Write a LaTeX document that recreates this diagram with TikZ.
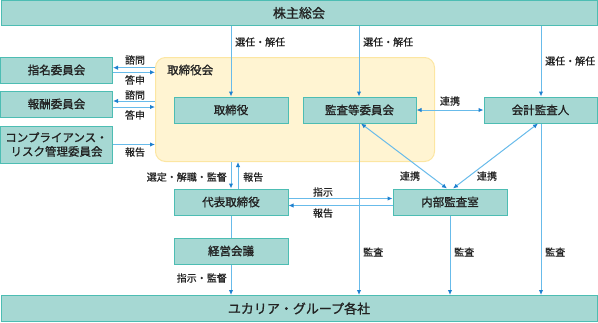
\documentclass[tikz,border=0pt]{standalone}
\usepackage{fontspec}
\setmainfont{Noto Sans CJK JP}
\newfontfamily\jpbox{Noto Sans CJK JP}[FakeBold=1.2]
\newfontfamily\jplbl{Noto Sans CJK JP}[FakeBold=0.8]
\usetikzlibrary{arrows.meta}
\definecolor{boxfill}{HTML}{A6D8D3}
\definecolor{boxline}{HTML}{4DBDB3}
\definecolor{yelfill}{HTML}{FFF4D2}
\definecolor{yelline}{HTML}{FCE6A2}
\definecolor{linblue}{HTML}{68BBEA}
\definecolor{tipblue}{HTML}{1E80CF}
\definecolor{txt}{HTML}{222222}
\tikzset{
  box/.style={draw=boxline, fill=boxfill, line width=1pt, inner sep=0pt, text=txt, font=\jpbox\fontsize{11.5}{14}\selectfont, align=center},
  lbl/.style={text=txt, font=\jplbl\fontsize{10}{12}\selectfont, inner sep=0pt},
  arr/.style={draw=linblue, line width=1pt, -{Latex[length=5pt,width=4.5pt,color=tipblue]}},
  darr/.style={draw=linblue, line width=1pt, {Latex[length=5pt,width=4.5pt,color=tipblue]}-{Latex[length=5pt,width=4.5pt,color=tipblue]}},
  ln/.style={draw=linblue, line width=1pt}
}
\begin{document}
\begin{tikzpicture}[x=1pt,y=-1pt]
\useasboundingbox (0,0) rectangle (598,322);
% board region
\node[draw=yelline, fill=yelfill, line width=1pt, rounded corners=10pt, minimum width=279pt, minimum height=104pt, inner sep=0pt] (bd) at (295,109.5) {};
\node[lbl, anchor=west, font=\jplbl\fontsize{11.5}{14}\selectfont] (bdl) at (167,70) {取締役会};
% boxes
\node[box, minimum width=596pt, minimum height=25pt, font=\jpbox\fontsize{13}{15}\selectfont] (top) at (299,13) {株主総会};
\node[box, minimum width=596pt, minimum height=26pt, font=\jpbox\fontsize{13}{15}\selectfont] (bot) at (299,308.5) {ユカリア・グループ各社};
\node[box, minimum width=112pt, minimum height=26pt] (shimei) at (56.5,70) {指名委員会};
\node[box, minimum width=112pt, minimum height=26pt] (hoshu) at (56.5,104) {報酬委員会};
\node[box, minimum width=112pt, minimum height=37pt] (comp) at (56.5,144.5) {コンプライアンス・\\リスク管理委員会};
\node[box, minimum width=114pt, minimum height=26pt] (tori) at (231,110) {取締役};
\node[box, minimum width=113pt, minimum height=26pt] (kansa) at (359.5,110) {監査等委員会};
\node[box, minimum width=113pt, minimum height=26pt] (kaikei) at (540.5,110) {会計監査人};
\node[box, minimum width=114pt, minimum height=26pt] (daihyo) at (231,202) {代表取締役};
\node[box, minimum width=114pt, minimum height=26pt] (keiei) at (231,251) {経営会議};
\node[box, minimum width=114pt, minimum height=26pt] (naibu) at (450,202) {内部監査室};
% shareholders -> board etc.
\draw[arr] (tori.north |- top.south) -- (tori.north);
\node[lbl, anchor=west] (l1) at (235,42) {選任・解任};
\coordinate (kx) at (359,110);
\draw[arr] (kx |- top.south) -- (kx |- kansa.north);
\node[lbl, anchor=west] (l2) at (363,42) {選任・解任};
\coordinate (ax) at (541,110);
\draw[arr] (ax |- top.south) -- (ax |- kaikei.north);
\node[lbl, anchor=west] (l3) at (545,61) {選任・解任};
% committees
\coordinate (s1) at ([yshift=2.3pt]shimei.east);
\coordinate (s2) at ([yshift=-2.3pt]shimei.east);
\draw[arr] (s1 -| bd.west) -- (s1);
\draw[arr] (s2) -- (s2 -| bd.west);
\node[lbl] (l4) at (135,60) {諮問};
\node[lbl] (l5) at (135,80) {答申};
\coordinate (h1) at ([yshift=3pt]hoshu.east);
\coordinate (h2) at ([yshift=-3pt]hoshu.east);
\draw[arr] (h1 -| bd.west) -- (h1);
\draw[arr] (h2) -- (h2 -| bd.west);
\node[lbl] (l6) at (135,95) {諮問};
\node[lbl] (l7) at (135,115) {答申};
\draw[arr] (comp.east) -- (comp.east -| bd.west);
\node[lbl] (l8) at (135,152) {報告};
% board <-> representative
\draw[arr] (daihyo.north |- bd.south) -- (daihyo.north);
\coordinate (r1) at ([xshift=7pt]daihyo.north);
\draw[arr] (r1) -- (r1 |- bd.south);
\node[lbl, anchor=east] (l9) at (227,177) {選定・解職・監督};
\node[lbl, anchor=west] (l10) at (243,177) {報告};
\draw[ln] (daihyo.south) -- (keiei.north);
\draw[arr] (keiei.south) -- (keiei.south |- bot.north);
\node[lbl, anchor=east] (l11) at (227,278) {指示・監督};
% representative <-> internal audit
\coordinate (d1) at ([yshift=3.5pt]daihyo.east);
\coordinate (d2) at ([yshift=-3.5pt]daihyo.east);
\draw[arr] (d1) -- (d1 -| naibu.west);
\draw[arr] (d2 -| naibu.west) -- (d2);
\node[lbl] (l12) at (323,192) {指示};
\node[lbl] (l13) at (323,213) {報告};
% cooperation
\draw[darr] (kansa.east) -- (kaikei.west);
\node[lbl] (l14) at (450,101) {連携};
\coordinate (n1) at ([xshift=-3pt]naibu.north);
\coordinate (n2) at ([xshift=3pt]naibu.north);
\coordinate (k1) at ([xshift=1.5pt]kansa.south);
\coordinate (a1) at ([xshift=-2.5pt]kaikei.south);
\draw[darr] (n1) -- (k1);
\draw[darr] (n2) -- (a1);
\node[lbl] (l15) at (410,176) {連携};
\node[lbl] (l16) at (487,176) {連携};
% audits
\draw[arr] (kx |- kansa.south) -- (kx |- bot.north);
\node[lbl, anchor=west] (l17) at (363,252) {監査};
\draw[arr] (naibu.south) -- (naibu.south |- bot.north);
\node[lbl, anchor=west] (l18) at (454,252) {監査};
\draw[arr] (ax |- kaikei.south) -- (ax |- bot.north);
\node[lbl, anchor=west] (l19) at (545,252) {監査};
\end{tikzpicture}
\end{document}
